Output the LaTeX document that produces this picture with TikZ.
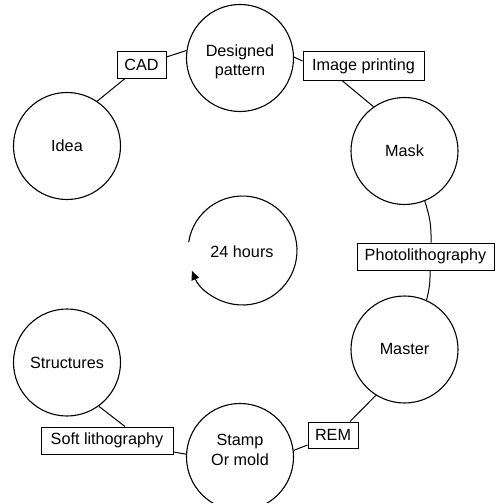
\documentclass[tikz,border=0pt]{standalone}
\usepackage{fontspec}
\setmainfont{Liberation Sans}
\usetikzlibrary{arrows.meta}
\begin{document}
\begin{tikzpicture}[x=1pt,y=-1pt,
  every node/.style={font=\fontsize{16.2}{19.5}\selectfont},
  circ/.style={draw,circle,line width=1.1pt,minimum size=107pt,inner sep=0pt,align=center},
  boxn/.style={draw,rectangle,line width=1pt,minimum height=27pt,inner sep=0pt},
  conn/.style={line width=1pt}]
\useasboundingbox (0,0) rectangle (496,503);
\clip (0,0) rectangle (496,503);
% circles
\node[circ] (design) at (240,58) {};
\node[align=center] (designt) at (240,62) {Designed\\pattern};
\node[circ] (idea) at (67,146) {Idea};
\node[circ] (mask) at (404.5,151) {Mask};
\node[circ] (master) at (404.5,349.5) {Master};
\node[circ] (stamp) at (240,457) {};
\node[align=center] (stampt) at (240,450) {Stamp\\Or mold};
\node[circ] (struct) at (67,362.5) {Structures};
% boxes
\node[boxn,minimum width=49pt,minimum height=26pt] (cad) at (141.5,65) {CAD};
\node[boxn,minimum width=121pt,minimum height=28pt] (imgp) at (363.5,66) {Image printing};
\node[boxn,minimum width=137pt] (photo) at (425.5,256.5) {Photolithography};
\node[boxn,minimum width=50pt,minimum height=26pt] (rem) at (333,435) {REM};
\node[boxn,minimum width=132pt] (soft) at (107,440.5) {Soft lithography};
% connectors
\draw[conn] (idea.56) -- ([xshift=-16.5pt]cad.south);
\draw[conn] ([yshift=8pt]cad.east) -- (design.172.6);
\draw[conn] (design.1) -- ([yshift=5pt]imgp.west);
\draw[conn] ([xshift=-21.5pt]imgp.south) -- (mask.125.6);
\draw[conn] (mask.-68.5) to[bend left=10] ([xshift=5.5pt]photo.north);
\draw[conn] ([xshift=4.5pt]photo.south) to[bend left=8] (master.66.8);
\draw[conn] (master.238.9) -- ([xshift=17pt]rem.north);
\draw[conn] ([yshift=-10pt]rem.west) -- (stamp.7);
\draw[conn] (struct.-54.5) -- ([xshift=18pt]soft.north);
\draw[conn] ([yshift=-11.5pt]soft.east) -- (stamp.177);
% 24 hours cycle
\node (hours) at (242,251.5) {24 hours};
\coordinate (hc) at (242.5,250.5);
\draw[line width=1.1pt,-{Triangle[length=9pt,width=8pt]}]
  ([shift={(171:54.5pt)}]hc) arc[start angle=171,end angle=-158,radius=54.5pt];
\end{tikzpicture}
\end{document}
